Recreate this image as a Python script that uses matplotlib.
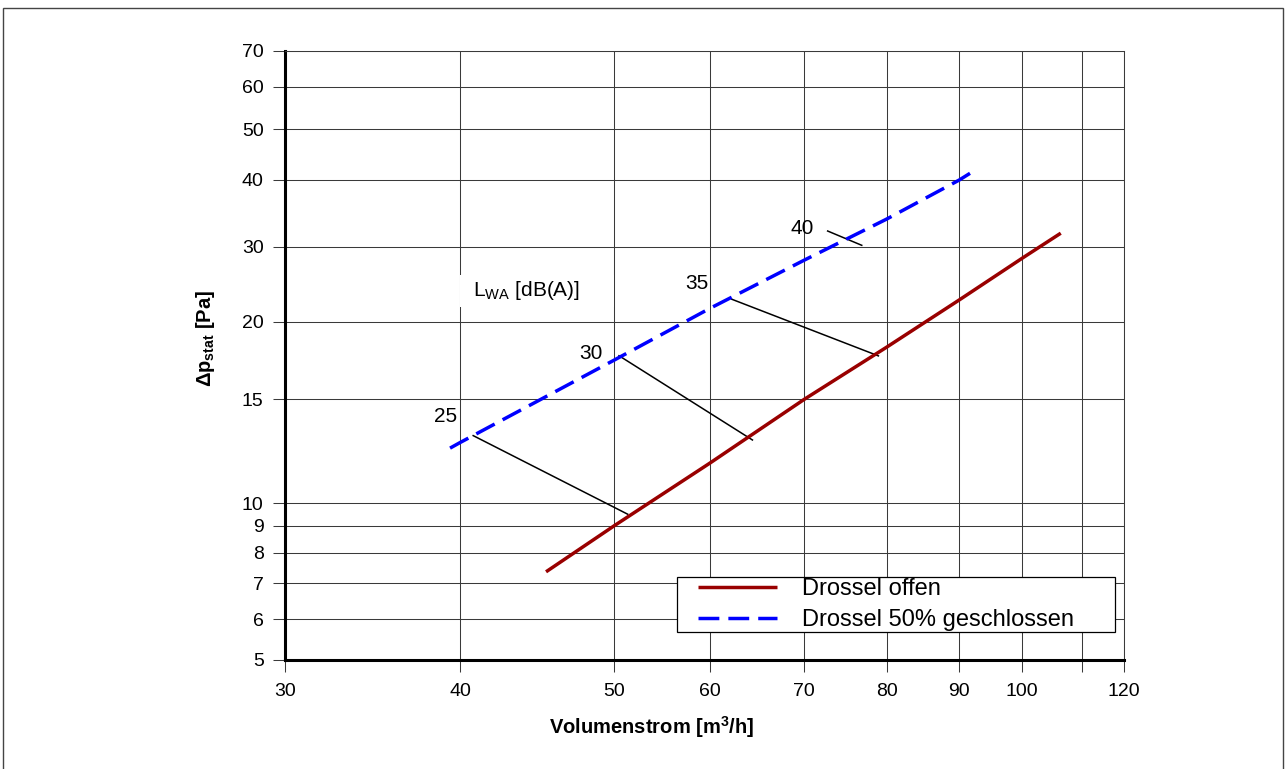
import numpy as np
import matplotlib
matplotlib.use('Agg')
import matplotlib.pyplot as plt
from matplotlib.patches import Rectangle
from matplotlib.ticker import FixedLocator, FixedFormatter, NullLocator

plt.rcParams['font.family'] = ['Liberation Sans', 'DejaVu Sans']
plt.rcParams['mathtext.fontset'] = 'custom'
plt.rcParams['mathtext.rm'] = 'Liberation Sans'
plt.rcParams['mathtext.it'] = 'Liberation Sans:italic'
plt.rcParams['mathtext.bf'] = 'Liberation Sans:bold'

# axis ticks / gridlines
x_ticks = [30, 40, 50, 60, 70, 80, 90, 100, 110, 120]
x_tick_labels = ['30', '40', '50', '60', '70', '80', '90', '100', '', '120']
y_ticks = [5, 6, 7, 8, 9, 10, 15, 20, 30, 40, 50, 60, 70]
y_tick_labels = [str(v) for v in y_ticks]

# the source grid is hand drawn (not a clean log axis) -> where each gridline sits
x_grid_pos = [0, 174.7, 329.0, 424.7, 519.0, 601.4, 674.0, 737.0, 797.0, 839.0]
y_grid_pos = [0, 40.7, 76.7, 107.3, 134.3, 156.7, 260.7, 338.3, 413.3, 480.0, 530.7, 573.3, 609.3]

# Drossel offen
flow_offen = [45.3, 50, 60, 70, 80, 90, 100, 106.3]
dp_offen = [7.36, 9.0, 11.7, 15.0, 18.2, 22.5, 28.2, 31.8]

# Drossel 50% geschlossen
flow_halb = [39.35, 40, 50, 60, 70, 80, 90, 91.9]
dp_halb = [12.4, 12.67, 17.35, 21.5, 27.9, 33.8, 40.0, 41.4]

# L_WA iso lines
lwa_levels = ['25', '30', '35', '40']
lwa_x_start = [40.77, 50.45, 62.18, 72.70]
lwa_y_start = [13.02, 17.63, 22.58, 32.10]
lwa_x_end = [51.29, 64.31, 78.93, 76.83]
lwa_y_end = [9.50, 12.80, 17.62, 30.18]
lwa_label_x = [39.03, 48.35, 58.50, 69.78]
lwa_label_y = [14.0, 17.79, 24.61, 32.48]


def make_scale(ticks, pos):
    lt = np.log10(np.asarray(ticks, float))
    pos = np.asarray(pos, float)
    lo = (pos[1] - pos[0]) / (lt[1] - lt[0])
    hi = (pos[-1] - pos[-2]) / (lt[-1] - lt[-2])
    lt_ext = np.r_[lt[0] - 3, lt, lt[-1] + 3]
    pos_ext = np.r_[pos[0] - 3 * lo, pos, pos[-1] + 3 * hi]

    def forward(v):
        v = np.clip(np.asarray(v, float), 1e-6, None)
        return np.interp(np.log10(v), lt_ext, pos_ext)

    def inverse(p):
        return 10 ** np.interp(np.asarray(p, float), pos_ext, lt_ext)
    return forward, inverse


fig = plt.figure(figsize=(12.85, 7.69), dpi=100)
ax = fig.add_axes([285.3 / 1285, 109 / 769, 839 / 1285, 609.3 / 769])
ax.set_xscale('function', functions=make_scale(x_ticks, x_grid_pos))
ax.set_yscale('function', functions=make_scale(y_ticks, y_grid_pos))
ax.set_xlim(30, 120)
ax.set_ylim(5, 70)

ax.xaxis.set_major_locator(FixedLocator(x_ticks))
ax.xaxis.set_major_formatter(FixedFormatter(x_tick_labels))
ax.xaxis.set_minor_locator(NullLocator())
ax.yaxis.set_major_locator(FixedLocator(y_ticks))
ax.yaxis.set_major_formatter(FixedFormatter(y_tick_labels))
ax.yaxis.set_minor_locator(NullLocator())

ax.set_axisbelow(True)
ax.grid(True, color='#3a3a3a', linewidth=0.75)
ax.tick_params(direction='out', length=8.6, width=0.75, color='#3a3a3a', labelsize=14)
ax.tick_params(axis='x', pad=8)
ax.tick_params(axis='y', pad=7)
for s in ['left', 'bottom']:
    ax.spines[s].set_linewidth(2.2)
    ax.spines[s].set_color('black')
for s in ['top', 'right']:
    ax.spines[s].set_linewidth(0.75)
    ax.spines[s].set_color('#3a3a3a')

ax.plot(flow_offen, dp_offen, color='#990000', lw=2.5, solid_capstyle='butt',
        label='Drossel offen', zorder=3)
ax.plot(flow_halb, dp_halb, color='#0000ff', lw=2.5, dashes=(6, 2.6),
        label='Drossel 50% geschlossen', zorder=3)

for i in range(len(lwa_levels)):
    ax.plot([lwa_x_start[i], lwa_x_end[i]], [lwa_y_start[i], lwa_y_end[i]],
            color='black', lw=1.1, zorder=2.5)
    ax.text(lwa_label_x[i], lwa_label_y[i], lwa_levels[i], fontsize=15,
            ha='center', va='center', zorder=4)

# white patch behind the L_WA caption (covers the gridlines)
ax.add_patch(Rectangle((40, 21.66), 10, 25.75 - 21.66, facecolor='white',
                       edgecolor='none', zorder=1))
ax.text(40.77, 23.65, r'L$_{\mathrm{WA}}$ [dB(A)]', fontsize=15, ha='left', va='center', zorder=4)

ax.set_xlabel(r'Volumenstrom [m$^\mathbf{3}$/h]', fontsize=14.5, fontweight='bold')
ax.xaxis.set_label_coords(0.436, -0.0886)
ax.set_ylabel(r'Δp$_\mathbf{stat}$ [Pa]', fontsize=14.5, fontweight='bold')
ax.yaxis.set_label_coords(-0.0815, 0.528)

# legend frame
ax.add_patch(Rectangle((0.4669, 0.0455), 0.9889 - 0.4669, 0.1367 - 0.0455,
                       transform=ax.transAxes, facecolor='white', edgecolor='black',
                       lw=0.9, zorder=5))
leg = ax.legend(loc='center left', bbox_to_anchor=(0.4919, 0.0911), frameon=False,
                fontsize=17, handlelength=3.35, handletextpad=1.05, labelspacing=0.4,
                borderpad=0, borderaxespad=0)
leg.set_zorder(6)

# outer frame of the picture
fig.add_artist(Rectangle((3 / 1285, -0.01), 1280 / 1285, 0.9902 + 0.01,
                         transform=fig.transFigure, facecolor='none',
                         edgecolor='#444444', lw=1))

fig.savefig('out.png', dpi=100)
